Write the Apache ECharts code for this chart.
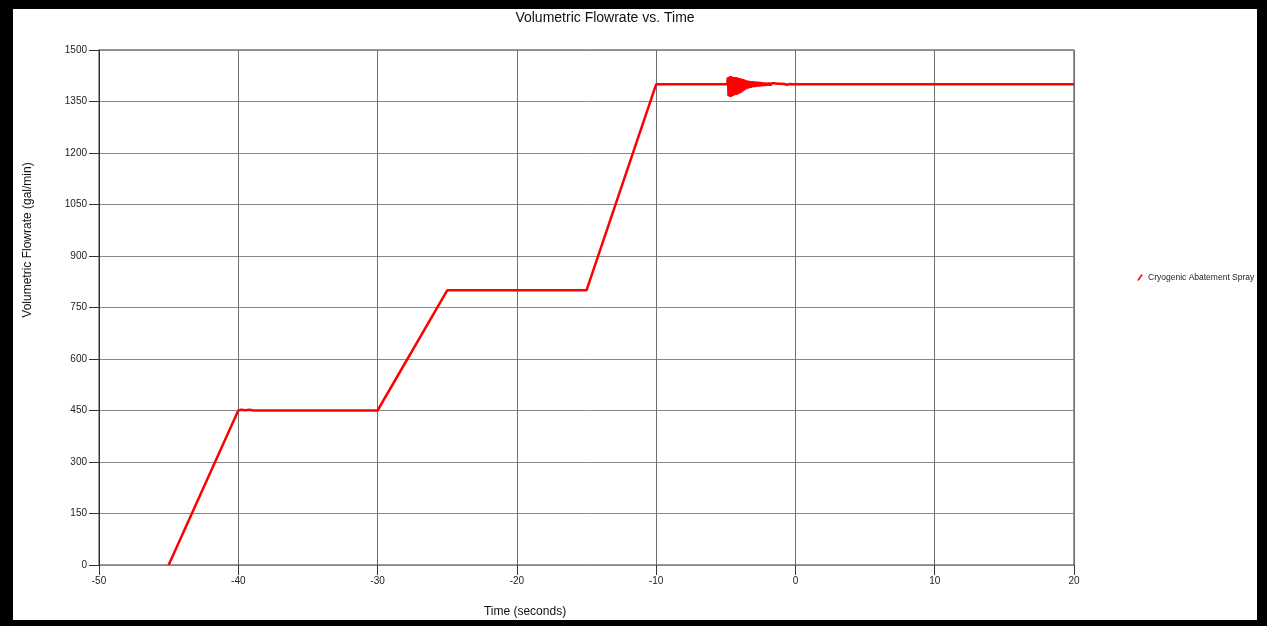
<!DOCTYPE html>
<html>
<head>
<meta charset="utf-8">
<script src="https://cdn.jsdelivr.net/npm/echarts@6/dist/echarts.min.js"></script>
<style>
html,body{margin:0;padding:0;background:#fff;}
#chart{width:1267px;height:626px;}
</style>
</head>
<body>
<div id="chart"></div>
<script>
const chartTitle = 'Volumetric Flowrate vs. Time';
const xName = 'Time (seconds)';
const yName = 'Volumetric Flowrate (gal/min)';
const seriesName = 'Cryogenic Abatement Spray';
const xTicks = [-50, -40, -30, -20, -10, 0, 10, 20];
const yTicks = [0, 150, 300, 450, 600, 750, 900, 1050, 1200, 1350, 1500];

// time (s) and flowrate (gal/min)
const times = [
  -45, -40, -39.8, -39.5, -39.2, -38.9, -30, -25, -15, -10, -4.9,
  -4.85, -4.8, -4.75, -4.7, -4.65, -4.6, -4.55, -4.5, -4.45, -4.4,
  -4.35, -4.3, -4.25, -4.2, -4.15, -4.1, -4.05, -4.0, -3.95, -3.9,
  -3.85, -3.8, -3.75, -3.7, -3.65, -3.6, -3.5, -3.4, -3.3, -3.2,
  -3.1, -3.0, -2.9, -2.8, -2.7, -2.6, -2.5, -2.4, -2.3, -2.2,
  -2.1, -2.0, -1.9, -1.8, -1.7, -1.6, -1.5, -1.4, -1.3, -1.2,
  -1.1, -1.0, -0.8, -0.6, -0.4, -0.2, 20
];
const flows = [
  0, 450, 452, 451, 452, 450, 450, 800, 800, 1400, 1400,
  1420, 1366, 1422, 1363, 1424, 1364, 1422, 1366, 1421, 1368,
  1420, 1369, 1421, 1370, 1419, 1372, 1418, 1374, 1417, 1376,
  1416, 1379, 1415, 1382, 1413, 1385, 1411, 1388, 1410, 1390,
  1409, 1392, 1408, 1393, 1407, 1394, 1406, 1395, 1405, 1396,
  1404, 1397, 1404, 1397, 1403, 1398, 1403, 1398, 1402, 1398,
  1402, 1399, 1401, 1399, 1401, 1400, 1400
];

const chart = echarts.init(document.getElementById('chart'));
const font = 'Arial, "Liberation Sans", sans-serif';

chart.setOption({
  animation: false,
  backgroundColor: '#fff',
  grid: {left: 99, right: 193, top: 50, bottom: 61, show: true, borderColor: '#333', borderWidth: 1},
  legend: {
    show: true,
    left: 1132, top: 268,
    orient: 'vertical',
    icon: 'path://M0,10 L3.2,10 L10,0 L6.8,0 Z',
    itemWidth: 6, itemHeight: 8, itemGap: 4,
    textStyle: {fontFamily: font, fontSize: 8.5, color: '#222'},
    data: [seriesName]
  },
  xAxis: {
    type: 'value', min: xTicks[0], max: xTicks[xTicks.length - 1], interval: 10,
    axisLine: {show: true, onZero: false, lineStyle: {color: '#888', width: 1}},
    axisTick: {show: true, length: 10, inside: false, lineStyle: {color: '#333'}},
    axisLabel: {margin: 11, fontFamily: font, fontSize: 10, color: '#222'},
    splitLine: {show: true, lineStyle: {color: '#6f6f6f', width: 1}}
  },
  yAxis: {
    type: 'value', min: yTicks[0], max: yTicks[yTicks.length - 1], interval: 150,
    axisLine: {show: true, onZero: false, lineStyle: {color: '#333', width: 1}},
    axisTick: {show: true, length: 10, inside: false, lineStyle: {color: '#333'}},
    axisLabel: {margin: 12, fontFamily: font, fontSize: 10, color: '#222', formatter: v => String(v)},
    splitLine: {show: true, lineStyle: {color: '#8a8a8a', width: 1}}
  },
  series: [{
    name: seriesName,
    type: 'line',
    data: times.map((t, i) => [t, flows[i]]),
    showSymbol: false,
    symbol: 'none',
    lineStyle: {color: '#ff0000', width: 2.5},
    itemStyle: {color: '#ff0000'},
    z: 5
  }],
  graphic: [
    {type: 'text', x: 605, y: 18, style: {text: chartTitle, fontFamily: font, fontSize: 14, fill: '#111', align: 'center', verticalAlign: 'middle'}},
    {type: 'text', x: 525, y: 612, style: {text: xName, fontFamily: font, fontSize: 12, fill: '#111', align: 'center', verticalAlign: 'middle'}},
    {type: 'text', x: 28, y: 240, rotation: Math.PI / 2, style: {text: yName, fontFamily: font, fontSize: 12, fill: '#111', align: 'center', verticalAlign: 'middle'}},
    {type: 'rect', silent: true, shape: {x: 0, y: 0, width: 1267, height: 9}, style: {fill: '#000'}},
    {type: 'rect', silent: true, shape: {x: 0, y: 0, width: 13, height: 626}, style: {fill: '#000'}},
    {type: 'rect', silent: true, shape: {x: 1257, y: 0, width: 10, height: 626}, style: {fill: '#000'}},
    {type: 'rect', silent: true, shape: {x: 0, y: 620, width: 1267, height: 6}, style: {fill: '#000'}}
  ]
});
</script>
</body>
</html>
